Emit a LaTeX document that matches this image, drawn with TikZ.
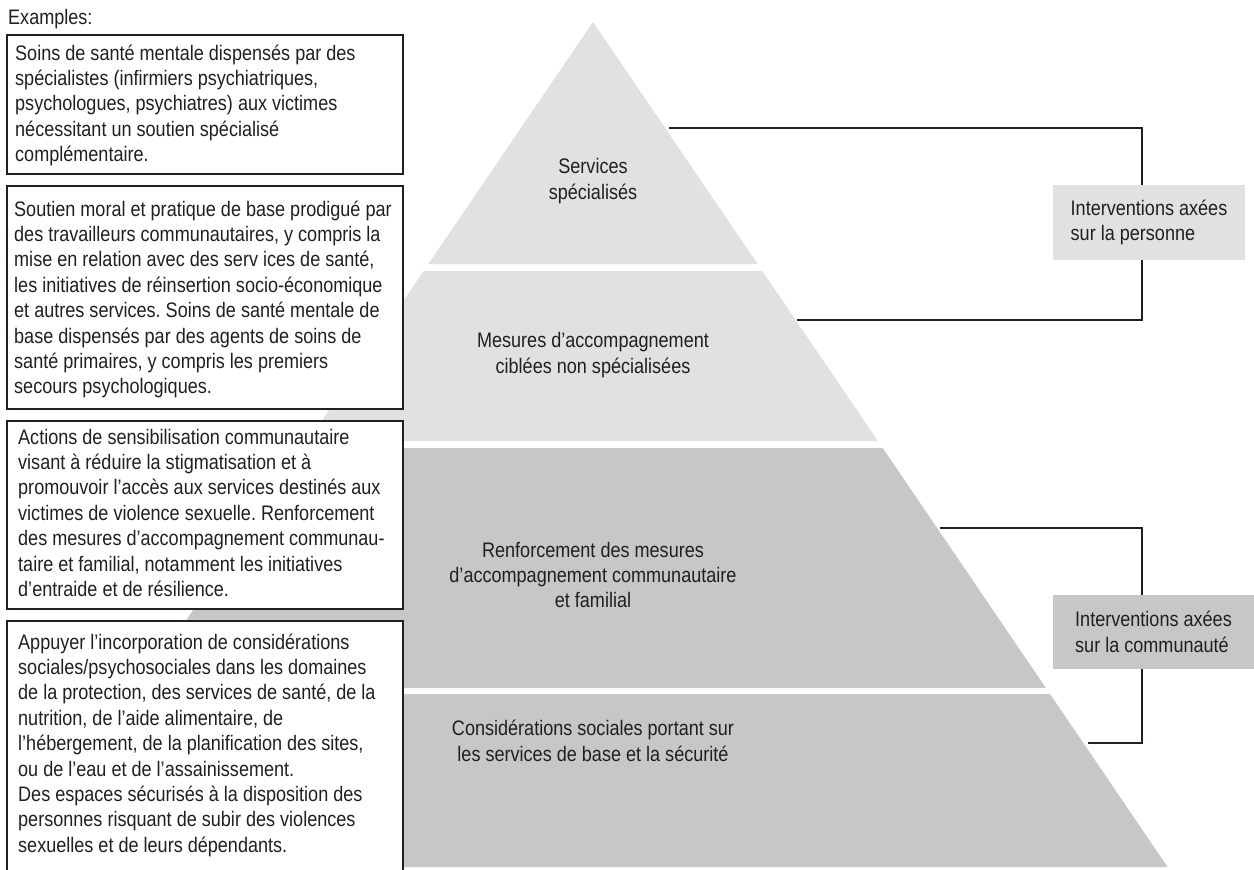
\documentclass[tikz,border=0pt]{standalone}
\usepackage{fontspec}
\setmainfont{Liberation Sans}[FakeStretch=0.86]
\frenchspacing
\definecolor{lightg}{HTML}{E0E1E3}
\definecolor{darkg}{HTML}{C6C7C9}
\definecolor{ink}{HTML}{231F20}
\definecolor{lineink}{HTML}{231F20}
\newcommand{\mytxt}{\fontsize{21}{25.4}\selectfont\frenchspacing}
\begin{document}
\begin{tikzpicture}[x=1pt,y=-1pt,
  exbox/.style={draw=ink, line width=1.3pt, fill=white},
  conn/.style={draw=lineink, line width=2.5pt},
  lbl/.style={text=ink, inner sep=0pt, font=\mytxt, align=center},
  para/.style={text=ink, inner sep=0pt, font=\mytxt, anchor=base west},
  intbox/.style={text=ink, inner sep=0pt, font=\mytxt, align=left, minimum height=75pt}]
\useasboundingbox (0,0) rectangle (1254,870);
\fill[white] (0,0) rectangle (1254,870);
% pyramid tiers
\fill[lightg] (593,22) -- (757.6,264) -- (428.4,264) -- cycle;
\fill[lightg] (423.7,271) -- (762.3,271) -- (877.9,441) -- (308.1,441) -- cycle;
\fill[darkg] (303.3,448) -- (882.7,448) -- (1045.9,688) -- (140.1,688) -- cycle;
\fill[darkg] (136.0,694) -- (1050.0,694) -- (1167.6,867) -- (18.4,867) -- cycle;
% pyramid labels
\node[lbl] (t1) at (593,181) {Services\\spécialisés};
\node[lbl] (t2) at (593,355) {Mesures d’accompagnement\\ciblées non spécialisées};
\node[lbl] (t3) at (593,575) {Renforcement des mesures\\d’accompagnement communautaire\\et familial};
\node[lbl] (t4) at (593,741) {Considérations sociales portant sur\\les services de base et la sécurité};
% connectors
\coordinate (pa) at (669,128);
\coordinate (pb) at (1142,128);
\coordinate (pc) at (1142,320);
\coordinate (pd) at (797,320);
\draw[conn] (pa) -- (pb) -- (pc) -- (pd);
\coordinate (ca) at (940,528);
\coordinate (cb) at (1142,528);
\coordinate (cc) at (1142,743);
\coordinate (cd) at (1088,743);
\draw[conn] (ca) -- (cb) -- (cc) -- (cd);
% intervention boxes
\node[intbox, fill=lightg, minimum width=192pt] (ip) at (1149,222.5) {Interventions axées\\sur la personne};
\node[intbox, fill=darkg, minimum width=201pt, minimum height=74pt] (ic) at (1153.5,632) {Interventions axées\\sur la communauté};
% example boxes
\node[para] (ex) at (8,24) {Examples:};
\draw[exbox] (7,35) rectangle (403,174);
\draw[exbox] (7,186) rectangle (403,409);
\draw[exbox] (7,421) rectangle (403,609);
\fill[white] (7,621) rectangle (403,870);
\draw[ink, line width=1.3pt] (7,871) -- (7,621) -- (403,621) -- (403,871);
\node[para] (b1) at (15,60) {\begin{minipage}[t]{390pt}\raggedright
Soins de santé mentale dispensés par des\\
spécialistes (infirmiers psychiatriques,\\
psychologues, psychiatres) aux victimes\\
nécessitant un soutien spécialisé\\
complémentaire.\end{minipage}};
\node[para] (b2) at (14,216) {\begin{minipage}[t]{390pt}\raggedright
Soutien moral et pratique de base prodigué par\\
des travailleurs communautaires, y compris la\\
mise en relation avec des serv ices de santé,\\
les initiatives de réinsertion socio-économique\\
et autres services. Soins de santé mentale de\\
base dispensés par des agents de soins de\\
santé primaires, y compris les premiers\\
secours psychologiques.\end{minipage}};
\node[para] (b3) at (18,444) {\begin{minipage}[t]{390pt}\raggedright
Actions de sensibilisation communautaire\\
visant à réduire la stigmatisation et à\\
promouvoir l’accès aux services destinés aux\\
victimes de violence sexuelle. Renforcement\\
des mesures d’accompagnement communau-\\
taire et familial, notamment les initiatives\\
d’entraide et de résilience.\end{minipage}};
\node[para] (b4) at (18,649) {\begin{minipage}[t]{390pt}\raggedright
Appuyer l’incorporation de considérations\\
sociales/psychosociales dans les domaines\\
de la protection, des services de santé, de la\\
nutrition, de l’aide alimentaire, de\\
l’hébergement, de la planification des sites,\\
ou de l’eau et de l’assainissement.\\
Des espaces sécurisés à la disposition des\\
personnes risquant de subir des violences\\
sexuelles et de leurs dépendants.\end{minipage}};
\end{tikzpicture}
\end{document}
